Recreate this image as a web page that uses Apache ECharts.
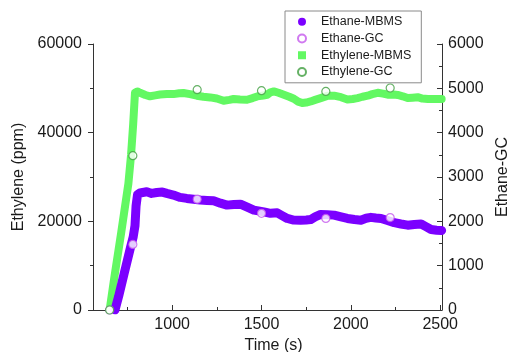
<!DOCTYPE html>
<html>
<head>
<meta charset="utf-8">
<script src="https://cdn.jsdelivr.net/npm/echarts@6/dist/echarts.min.js"></script>
<style>
html,body{margin:0;padding:0;background:#fff;}
#c{width:509px;height:352px;}
</style>
</head>
<body>
<div id="c"></div>
<script>
// ---- data ----
const ethyleneTime = [650,675,715,755,770,782,792,805,820,850,876,905,932,970,1007,1040,1063,1100,1138,1175,1213,1250,1288,1320,1344,1380,1419,1450,1476,1510,1532,1550,1569,1595,1625,1655,1681,1705,1728,1750,1775,1800,1831,1868,1906,1945,1981,2010,2037,2065,2094,2120,2150,2180,2206,2240,2262,2290,2318,2345,2374,2400,2431,2470,2508];
const ethyleneMBMS = [0,7000,17500,28500,35000,42000,49000,49300,49000,48500,48200,48400,48600,48700,48700,48900,48950,48700,48340,48100,47950,47700,47200,47400,47600,47500,47430,47800,48180,48400,48560,49100,49300,49000,48560,48100,47650,47000,46690,46800,47050,47400,47800,48300,48340,48000,47500,47600,47800,48100,48340,48700,49000,48800,48560,48600,48500,48200,47800,47900,48000,47700,47600,47600,47600];

const ethaneTime = [680,700,730,768,782,792,798,806,820,858,885,914,945,970,1007,1045,1082,1120,1157,1195,1232,1270,1307,1345,1382,1420,1457,1490,1513,1550,1588,1615,1644,1680,1719,1750,1775,1800,1831,1868,1906,1945,1981,2020,2056,2085,2112,2140,2169,2205,2243,2280,2318,2355,2393,2420,2449,2480,2508];
const ethaneMBMS = [0,300,800,1430,1650,1900,2350,2600,2640,2667,2630,2650,2660,2630,2592,2540,2517,2500,2480,2470,2463,2410,2366,2380,2388,2320,2253,2230,2214,2180,2192,2130,2065,2030,2026,2030,2040,2100,2155,2150,2140,2100,2065,2040,2026,2070,2090,2075,2065,2020,1970,1940,1913,1930,1940,1880,1815,1800,1795];

const gcTime = [650,780,1140,1500,1860,2220];
const ethaneGC = [0,1480,2500,2180,2065,2085];
const ethyleneGC = [0,34800,49700,49470,49300,50080];

const xMajorTicks = [1000,1500,2000,2500];
const xMinorTicks = [750,1250,1750,2250];

const zip = (a,b) => a.map((v,i)=>[v,b[i]]);

const FONT = 'Liberation Sans, Arial, sans-serif';
const TXT = '#1a1a1a';
const AX = '#333';
const plain = v => String(v);

const chart = echarts.init(document.getElementById('c'), null, {renderer:'canvas'});
chart.setOption({
  animation:false,
  backgroundColor:'#fff',
  textStyle:{fontFamily:FONT},
  grid:{left:93,right:67,top:44,bottom:42,containLabel:false,outerBoundsMode:'none'},
  legend:{
    orient:'vertical',
    left:285, top:11,
    padding:[4,10,4,12],
    borderColor:'#8a8a8a', borderWidth:1,
    itemWidth:8, itemHeight:8, itemGap:3,
    textStyle:{fontSize:12.5, color:TXT, fontFamily:FONT, lineHeight:13.7, padding:[0,0,0,10]},
    data:[
      {name:'Ethane-MBMS', icon:'circle'},
      {name:'Ethane-GC', icon:'circle'},
      {name:'Ethylene-MBMS', icon:'path://M0,0H10V10H0Z'},
      {name:'Ethylene-GC', icon:'circle'}
    ]
  },
  xAxis:[{
    type:'value', min:557, max:2510,
    name:'Time (s)', nameLocation:'middle', nameGap:25,
    nameTextStyle:{fontSize:16, color:TXT, padding:[0,0,0,12]},
    axisLine:{show:true, lineStyle:{color:AX, width:1}},
    axisTick:{show:true, inside:true, length:5, customValues:xMajorTicks, lineStyle:{color:AX}},
    axisLabel:{customValues:xMajorTicks, fontSize:16, color:TXT, margin:7, formatter:plain},
    splitLine:{show:false}
  },{
    type:'value', min:557, max:2510, position:'bottom', offset:0,
    axisLine:{show:true, lineStyle:{color:AX, width:1, opacity:0}},
    axisTick:{show:true, inside:true, length:3, customValues:xMinorTicks, lineStyle:{color:AX, opacity:1}},
    axisLabel:{show:false},
    splitLine:{show:false}
  }],
  yAxis:[{
    type:'value', min:0, max:60000, interval:20000, position:'left',
    name:'Ethylene (ppm)', nameLocation:'middle', nameGap:66,
    nameTextStyle:{fontSize:16, color:TXT},
    axisLine:{show:true, lineStyle:{color:AX, width:1}},
    axisTick:{show:true, inside:false, length:5, lineStyle:{color:AX}},
    minorTick:{show:true, splitNumber:2, length:3, lineStyle:{color:AX}},
    axisLabel:{fontSize:16, color:TXT, margin:11, formatter:plain},
    splitLine:{show:false}
  },{
    type:'value', min:0, max:6000, interval:1000, position:'right',
    name:'Ethane-GC', nameLocation:'middle', nameGap:50,
    nameTextStyle:{fontSize:16, color:TXT},
    axisLine:{show:true, lineStyle:{color:AX, width:1}},
    axisTick:{show:true, inside:true, length:5, lineStyle:{color:AX}},
    minorTick:{show:true, splitNumber:2, length:3, lineStyle:{color:AX}},
    axisLabel:{fontSize:16, color:TXT, margin:6, formatter:plain},
    splitLine:{show:false}
  }],
  series:[
    {
      name:'Ethylene-MBMS', type:'line', xAxisIndex:0, yAxisIndex:0, z:2,
      data:zip(ethyleneTime, ethyleneMBMS),
      showSymbol:false,
      color:'#62f862',
      lineStyle:{width:8, color:'#62f862', cap:'round', join:'round'}
    },
    {
      name:'Ethane-MBMS', type:'line', xAxisIndex:0, yAxisIndex:1, z:3,
      data:zip(ethaneTime, ethaneMBMS),
      showSymbol:false,
      color:'#7b00ff',
      lineStyle:{width:9, color:'#7b00ff', cap:'round', join:'round'}
    },
    {
      name:'Ethane-GC', type:'scatter', xAxisIndex:0, yAxisIndex:1, z:4,
      data:zip(gcTime, ethaneGC),
      symbol:'circle', symbolSize:8,
      itemStyle:{color:'#ffffff', borderColor:'#c458ec', borderWidth:1.2}
    },
    {
      name:'Ethylene-GC', type:'scatter', xAxisIndex:0, yAxisIndex:0, z:5,
      data:zip(gcTime, ethyleneGC),
      symbol:'circle', symbolSize:8,
      itemStyle:{color:'#ffffff', borderColor:'#3f9e3f', borderWidth:1.2}
    }
  ]
});
</script>
</body>
</html>
